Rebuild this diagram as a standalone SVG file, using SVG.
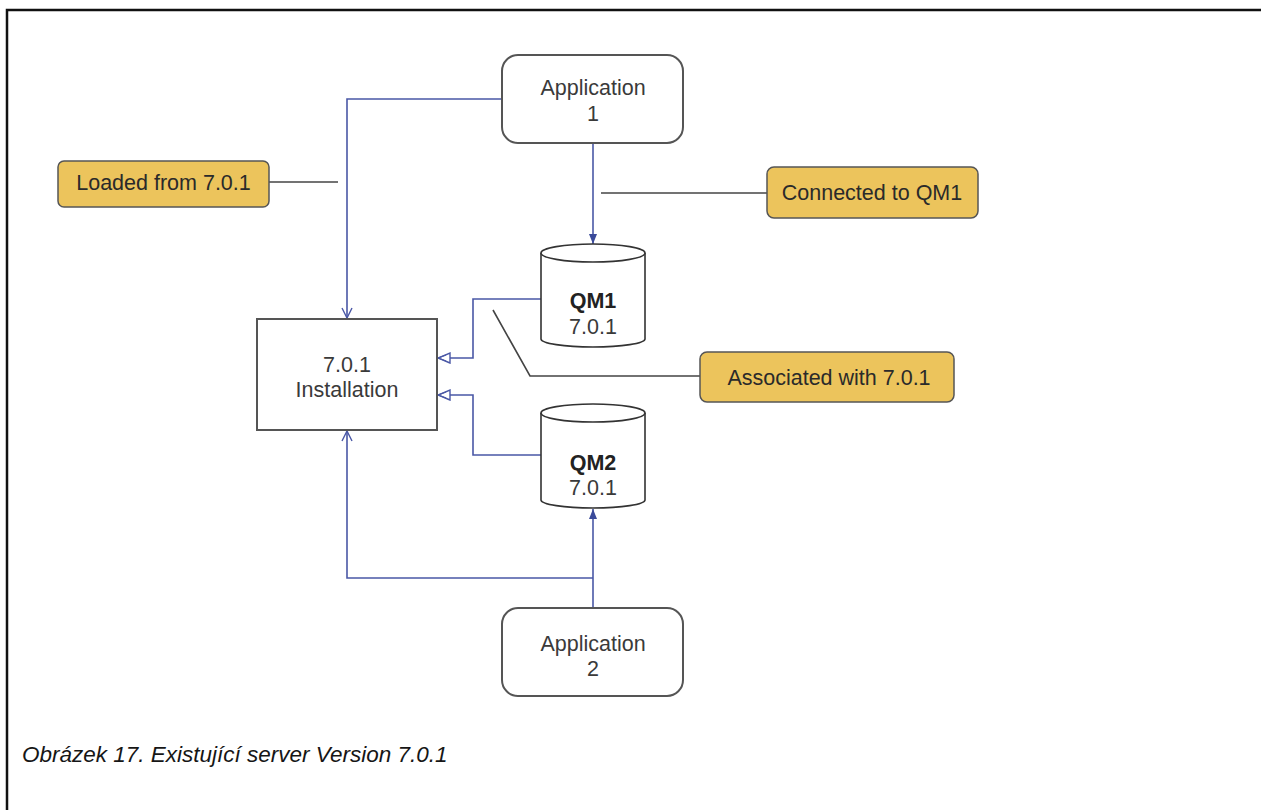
<svg xmlns="http://www.w3.org/2000/svg" width="1261" height="810" viewBox="0 0 1261 810">
<defs>
<style>
.t{font-family:"Liberation Sans",Arial,sans-serif;font-size:21.5px;fill:#3a3a3a;text-anchor:middle}
.b{font-weight:bold;fill:#222}
.ct{font-family:"Liberation Sans",Arial,sans-serif;font-size:21.5px;fill:#2a2a2a;text-anchor:middle}
.node{fill:#fff;stroke:#555;stroke-width:2}
.cyl{fill:#fff;stroke:#333;stroke-width:1.6}
.call{fill:#ECC45C;stroke:#555;stroke-width:1.5}
.blue{fill:none;stroke:#4a58a6;stroke-width:1.6}
.lead{fill:none;stroke:#444;stroke-width:1.6}
</style>
<marker id="fill" viewBox="0 0 10 10" refX="10" refY="5" markerWidth="10" markerHeight="10" markerUnits="userSpaceOnUse" orient="auto">
<path d="M0,1 L10,5 L0,9 Z" fill="#3a4a9a"/>
</marker>
<marker id="open" viewBox="0 0 12 12" refX="11" refY="6" markerWidth="12" markerHeight="12" markerUnits="userSpaceOnUse" orient="auto">
<path d="M1,1 L11,6 L1,11" fill="none" stroke="#4a58a6" stroke-width="1.4"/>
</marker>
<marker id="hollow" viewBox="0 0 14 12" refX="13" refY="6" markerWidth="14" markerHeight="12" markerUnits="userSpaceOnUse" orient="auto">
<path d="M1,1 L13,6 L1,11 Z" fill="#fff" stroke="#4a58a6" stroke-width="1.4"/>
<path d="M5,3 L13,6 L5,9" fill="none" stroke="#4a58a6" stroke-width="1.2"/>
</marker>
</defs>
<rect x="0" y="0" width="1261" height="810" fill="#fff"/>
<path d="M7,810 V10 H1261" fill="none" stroke="#111" stroke-width="2.5"/>

<g id="connectors">
<path class="blue" d="M502,99 H347 V318" marker-end="url(#open)"/>
<path class="blue" d="M593,143 V244" marker-end="url(#fill)"/>
<path class="blue" d="M541,299 H473 V358 H438" marker-end="url(#hollow)"/>
<path class="blue" d="M541,455 H473 V395 H438" marker-end="url(#hollow)"/>
<path class="blue" d="M593,608 V509" marker-end="url(#fill)"/>
<path class="blue" d="M593,578 H347 V431" marker-end="url(#open)"/>
<path class="lead" d="M269,182 H338"/>
<path class="lead" d="M601,193 H767"/>
<path class="lead" d="M493,310 L530,376 H700"/>
</g>

<g id="app1">
<rect class="node" x="502" y="55" width="181" height="88" rx="16"/>
<text class="t" x="593" y="95">Application</text>
<text class="t" x="593" y="121">1</text>
</g>

<g id="installation">
<rect class="node" x="257" y="319" width="180" height="111"/>
<text class="t" x="347" y="372">7.0.1</text>
<text class="t" x="347" y="397">Installation</text>
</g>

<g id="qm1">
<path class="cyl" d="M541,253 V339 A52,8 0 0 0 645,339 V253"/>
<ellipse class="cyl" cx="593" cy="253" rx="52" ry="9"/>
<text class="t b" x="593" y="308">QM1</text>
<text class="t" x="593" y="334">7.0.1</text>
</g>

<g id="qm2">
<path class="cyl" d="M541,413 V500 A52,8 0 0 0 645,500 V413"/>
<ellipse class="cyl" cx="593" cy="413" rx="52" ry="9"/>
<text class="t b" x="593" y="470">QM2</text>
<text class="t" x="593" y="495">7.0.1</text>
</g>

<g id="app2">
<rect class="node" x="502" y="608" width="181" height="88" rx="16"/>
<text class="t" x="593" y="651">Application</text>
<text class="t" x="593" y="676">2</text>
</g>

<g id="loaded">
<rect class="call" x="58" y="161" width="211" height="46" rx="6"/>
<text class="ct" x="163.5" y="190">Loaded from 7.0.1</text>
</g>

<g id="connected">
<rect class="call" x="767" y="167" width="211" height="51" rx="7"/>
<text class="ct" x="872" y="200">Connected to QM1</text>
</g>

<g id="associated">
<rect class="call" x="700" y="352" width="254" height="50" rx="7"/>
<text class="ct" x="829" y="385">Associated with 7.0.1</text>
</g>

<text x="22" y="762" font-family="'Liberation Sans',Arial,sans-serif" font-style="italic" font-size="22.5" fill="#161616">Obrázek 17. Existující server Version 7.0.1</text>
</svg>
